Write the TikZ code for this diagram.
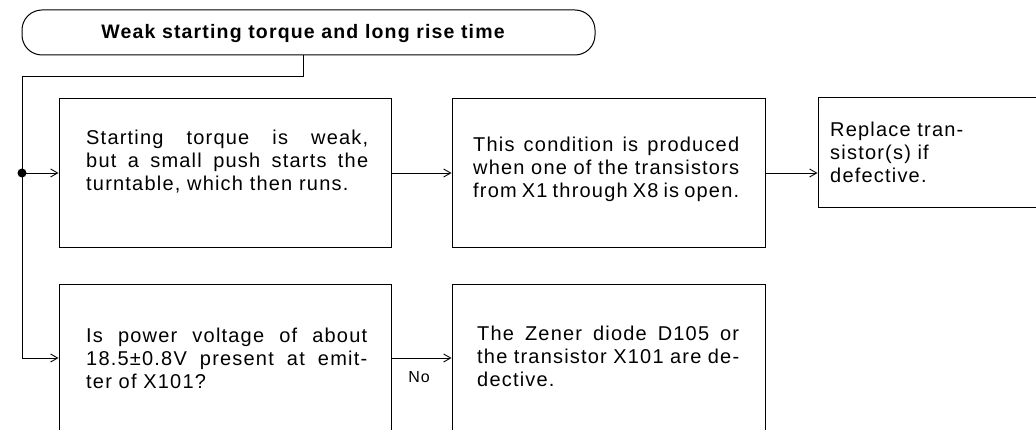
\documentclass[tikz,border=0pt]{standalone}
\usepackage{fontspec}
\setmainfont{Liberation Sans}[LetterSpace=6]
\usetikzlibrary{arrows.meta}
\begin{document}
\begin{tikzpicture}[x=1pt,y=1pt,
  box/.style={draw, line width=1pt, rectangle, inner sep=0pt},
  txt/.style={anchor=base west, inner sep=0pt, align=justify,
    font=\fontsize{20}{23}\selectfont,
    execute at begin node={\hyphenpenalty=10000\relax\exhyphenpenalty=10000\relax\tolerance=10000\relax}},
  arr/.style={-{Straight Barb[length=7pt,width=8pt]}, line width=0.9pt},
  ln/.style={line width=0.9pt}]
\useasboundingbox (0,0) rectangle (1036,429);
\clip (0,0) rectangle (1036,429);
% title
\node[box, rounded corners=20pt, minimum width=573pt, minimum height=45pt] (title) at (308.5,396.5) {};
\node[anchor=base, inner sep=0pt, font=\bfseries\fontsize{19.5}{22}\selectfont] (tt) at (303,390) {Weak starting torque and long rise time};
% boxes
\node[box, minimum width=332pt, minimum height=148pt] (b1) at (225,256) {};
\node[box, minimum width=313pt, minimum height=148pt] (b2) at (608.5,256) {};
\node[box, minimum width=242pt, minimum height=110pt] (b3) at (939,276) {};
\node[box, minimum width=332pt, minimum height=148pt] (b4) at (225,71) {};
\node[box, minimum width=313pt, minimum height=148pt] (b5) at (608.5,71) {};
% texts
\node[txt, text width=282pt] (t1) at (86,284) {Starting torque is weak,\linebreak but a small push starts the\linebreak turntable, which then runs.};
\node[txt, text width=266pt] (t2) at (473,277) {This condition is produced\linebreak when one of the transistors\linebreak from X1 through X8 is open.};
\node[txt, text width=190pt, align=left] (t3) at (830,292) {Replace tran-\\sistor(s) if\\defective.};
\node[txt, text width=281pt] (t4) at (86,87) {Is power voltage of about\linebreak 18.5±0.8V present at emit-\linebreak ter of X101?};
\node[txt, text width=262pt] (t5) at (477,89) {The Zener diode D105 or\linebreak the transistor X101 are de-\linebreak dective.};
% connectors
\coordinate (j1) at (303,353);
\coordinate (j2) at (22,353);
\node[circle, fill, inner sep=0pt, minimum size=9pt] (dot) at (22,256) {};
\draw[ln] (title.south -| j1) -- (j1) -- (j2) -- (dot.center);
\draw[arr] (dot.center) -- (b1.west);
\draw[arr] (dot.center) -- (dot |- b4.west) -- (b4.west);
\draw[arr] (b1.east) -- (b2.west);
\draw[arr] (b2.east) -- (b2.east -| b3.west);
\draw[arr] (b4.east) -- (b5.west);
\node[anchor=base, inner sep=0pt, font=\fontsize{16}{16}\selectfont] (no) at (419,47) {No};
\end{tikzpicture}
\end{document}
